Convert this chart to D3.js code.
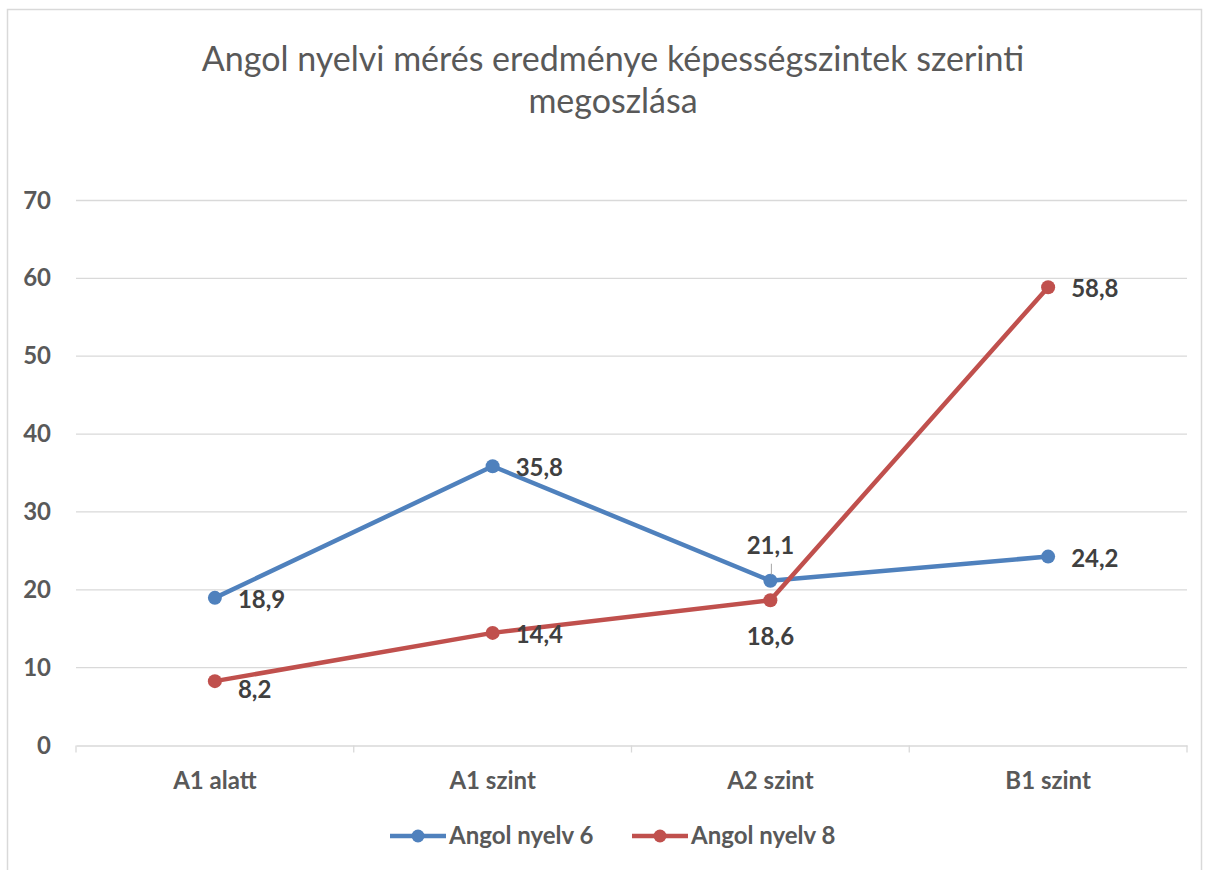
<!DOCTYPE html>
<html>
<head>
<meta charset="utf-8">
<script src="https://cdn.jsdelivr.net/npm/d3@7"></script>
<style>
  body { margin: 0; background: #fff; }
  svg { display: block; font-family: Lato, "Open Sans", sans-serif; }
</style>
</head>
<body>
<svg id="chart" width="1206" height="870"></svg>
<script>
var categories = ["A1 alatt", "A1 szint", "A2 szint", "B1 szint"];
var nyelv6 = [18.9, 35.8, 21.1, 24.2];
var nyelv8 = [8.2, 14.4, 18.6, 58.8];
var yTicks = [0, 10, 20, 30, 40, 50, 60, 70];
// label placement per point (like the original)
var pos6 = ["right", "right", "above", "right"];
var pos8 = ["right", "right", "below", "right"];

var series = [
  { name: "Angol nyelv 6", values: nyelv6, pos: pos6, color: "#4f81bd" },
  { name: "Angol nyelv 8", values: nyelv8, pos: pos8, color: "#c0504d" }
];

var svg = d3.select("#chart");
var width = +svg.attr("width");
var height = +svg.attr("height");

// outer chart frame
svg.append("rect")
  .attr("x", 7.5).attr("y", 9.5)
  .attr("width", width - 12).attr("height", height - 6)
  .attr("fill", "none").attr("stroke", "#d9d9d9").attr("stroke-width", 1.5);

var title = svg.append("text")
  .attr("text-anchor", "middle")
  .attr("fill", "#595959")
  .style("font-size", "34px");
title.append("tspan").attr("x", 613).attr("y", 71).text("Angol nyelvi mérés eredménye képességszintek szerinti");
title.append("tspan").attr("x", 613).attr("y", 113).text("megoszlása");

var x = d3.scaleBand().domain(categories).range([76, 1187]);
var y = d3.scaleLinear().domain([0, 70]).range([745, 200]);

// gridlines
svg.append("g").selectAll("line")
  .data(yTicks.filter(function(d) { return d > 0; }))
  .enter().append("line")
  .attr("x1", 76).attr("x2", 1187)
  .attr("y1", function(d) { return y(d) + 0.5; })
  .attr("y2", function(d) { return y(d) + 0.5; })
  .attr("stroke", "#d9d9d9").attr("stroke-width", 1.3);

// y axis labels
svg.append("g").selectAll("text")
  .data(yTicks)
  .enter().append("text")
  .attr("x", 51).attr("y", function(d) { return y(d); })
  .attr("dy", "0.36em")
  .attr("text-anchor", "end")
  .attr("fill", "#595959")
  .style("font-size", "24px").style("font-weight", "bold")
  .text(function(d) { return d; });

// x axis
var xAxis = svg.append("g")
  .attr("transform", "translate(0," + (y(0) + 0.5) + ")")
  .call(d3.axisBottom(x).tickSize(0).tickFormat(""));
xAxis.select(".domain").attr("stroke", "#d9d9d9").attr("stroke-width", 1.5);
var bounds = [76].concat(categories.map(function(c) { return x(c) + x.bandwidth(); }));
xAxis.selectAll(".sep").data(bounds).enter().append("line")
  .attr("x1", function(d) { return d; }).attr("x2", function(d) { return d; })
  .attr("y1", 0).attr("y2", 7)
  .attr("stroke", "#d9d9d9").attr("stroke-width", 1.3);

svg.append("g").selectAll("text")
  .data(categories)
  .enter().append("text")
  .attr("x", function(d) { return x(d) + x.bandwidth() / 2; })
  .attr("y", 789)
  .attr("text-anchor", "middle")
  .attr("fill", "#595959")
  .style("font-size", "24px").style("font-weight", "bold")
  .text(function(d) { return d; });

var cx = function(i) { return x(categories[i]) + x.bandwidth() / 2; };

var line = d3.line()
  .x(function(d, i) { return cx(i); })
  .y(function(d) { return y(d); });

series.forEach(function(s) {
  var g = svg.append("g");
  g.append("path")
    .datum(s.values)
    .attr("d", line)
    .attr("fill", "none")
    .attr("stroke", s.color)
    .attr("stroke-width", 4.5)
    .attr("stroke-linejoin", "round");
  g.selectAll("circle")
    .data(s.values)
    .enter().append("circle")
    .attr("cx", function(d, i) { return cx(i); })
    .attr("cy", function(d) { return y(d); })
    .attr("r", 7)
    .attr("fill", s.color);
});

// data labels
series.forEach(function(s) {
  s.values.forEach(function(v, i) {
    var px = cx(i), py = y(v);
    var t = svg.append("text")
      .attr("fill", "#404040")
      .style("font-size", "24px").style("font-weight", "bold")
      .text(d3.format(".1f")(v).replace(".", ","));
    if (s.pos[i] === "right") {
      t.attr("x", px + 23).attr("y", py + 10).attr("text-anchor", "start");
      if (v < 10) t.attr("y", py + 17);
    } else if (s.pos[i] === "above") {
      t.attr("x", px).attr("y", py - 27).attr("text-anchor", "middle");
      svg.append("line")
        .attr("x1", px + 1).attr("x2", px + 1)
        .attr("y1", py - 17).attr("y2", py - 6)
        .attr("stroke", "#a6a6a6").attr("stroke-width", 1);
    } else {
      t.attr("x", px).attr("y", py + 45).attr("text-anchor", "middle");
    }
  });
});

// legend
var legend = svg.append("g");
var legendX = [390, 632];
series.forEach(function(s, i) {
  var lx = legendX[i], ly = 836;
  legend.append("line")
    .attr("x1", lx).attr("x2", lx + 56)
    .attr("y1", ly).attr("y2", ly)
    .attr("stroke", s.color).attr("stroke-width", 4.5);
  legend.append("circle")
    .attr("cx", lx + 28).attr("cy", ly).attr("r", 6.5).attr("fill", s.color);
  legend.append("text")
    .attr("x", lx + 59).attr("y", ly + 8)
    .attr("fill", "#595959")
    .style("font-size", "24px").style("font-weight", "bold")
    .text(s.name);
});
</script>
</body>
</html>
